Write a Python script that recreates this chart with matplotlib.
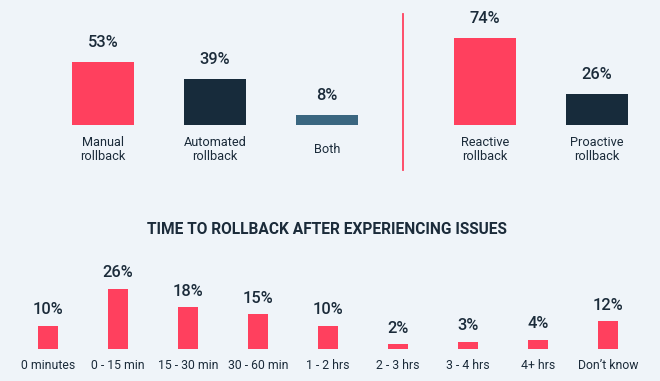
import matplotlib.pyplot as plt

plt.rcParams['font.family'] = ['Roboto', 'DejaVu Sans']

bg = '#eff4f9'
red = '#ff405e'
navy = '#172b3b'
steel = '#3a6680'
text_col = '#1b2b3a'

# top left group: rollback type
type_labels = ['Manual\nrollback', 'Automated\nrollback', 'Both']
type_values = [53, 39, 8]
type_colors = [red, navy, steel]

# top right group: reactive vs proactive
mode_labels = ['Reactive\nrollback', 'Proactive\nrollback']
mode_values = [74, 26]
mode_colors = [red, navy]

# bottom: time to rollback
time_labels = ['0 minutes', '0 - 15 min', '15 - 30 min', '30 - 60 min', '1 - 2 hrs',
               '2 - 3 hrs', '3 - 4 hrs', '4+ hrs', "Don\u2019t know"]
time_values = [10, 26, 18, 15, 10, 2, 3, 4, 12]

W, H = 660, 381
fig = plt.figure(figsize=(6.6, 3.81), dpi=100)
fig.patch.set_facecolor(bg)


def px_axes(x0, x1, y_base, y_top):
    # axes placed by pixel box (top-left origin)
    return fig.add_axes([x0 / W, (H - y_base) / H, (x1 - x0) / W, (y_base - y_top) / H])


def bar_group(ax, labels, values, colors, width, val_off, lab_off, lab_size, n):
    ax.bar(range(n), values, width=width, color=colors)
    ax.set_xlim(-0.5, n - 0.5)
    ax.set_ylim(0, 100)
    ax.axis('off')
    for i, v in enumerate(values):
        ax.annotate(f'{v}%', (i, v), xytext=(0, val_off), textcoords='offset pixels',
                    ha='center', va='center', fontsize=11.8, fontweight='medium',
                    color=text_col, annotation_clip=False)
        ax.annotate(labels[i], (i, 0), xytext=(0, -lab_off), textcoords='offset pixels',
                    ha='center', va='center', fontsize=lab_size, color=text_col,
                    linespacing=1.2, annotation_clip=False)


# top left: spacing 112 px, baseline y=124.5, 1.175 px per %
ax1 = px_axes(47, 47 + 112 * 3, 124.5, 7)
bar_group(ax1, type_labels, type_values, type_colors, 0.55, 19.5, 25, 9.2, 3)

ax2 = px_axes(429, 429 + 112 * 2, 124.5, 7)
bar_group(ax2, mode_labels, mode_values, mode_colors, 0.55, 19.5, 25, 9.2, 2)

# divider
fig.add_artist(plt.Line2D([403 / W, 403 / W], [(H - 14) / H, (H - 169.5) / H],
                          color=red, lw=1.3))

# bottom chart: spacing 70 px, baseline y=348.7, 2.3 px per %
ax3 = px_axes(13, 13 + 70 * 9, 348.7, 348.7 - 230)
bar_group(ax3, time_labels, time_values, [red] * 9, 0.285, 16, 16.7, 8.8, 9)

fig.text(327 / W, (H - 230) / H, 'TIME TO ROLLBACK AFTER EXPERIENCING ISSUES',
         ha='center', va='center', fontsize=11.2, fontweight='bold', color=text_col)

fig.savefig('out.png', dpi=100, facecolor=bg)
